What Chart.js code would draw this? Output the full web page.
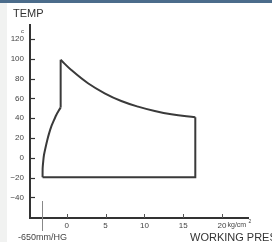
<!DOCTYPE html>
<html>
<head>
<meta charset="utf-8">
<script src="https://cdn.jsdelivr.net/npm/chart.js@4/dist/chart.umd.min.js"></script>
<style>
  html, body { margin: 0; padding: 0; background: #ffffff; }
  #wrap { position: relative; width: 272px; height: 242px; overflow: hidden; }
  canvas { display: block; }
</style>
</head>
<body>
<div id="wrap"><canvas id="c" width="272" height="242"></canvas></div>
<script>
// ---- data (pressure kg/cm², temperature °C) ----
const yTickValues = [-40, -20, 0, 20, 40, 60, 80, 100, 120];
const xTickValues = [0, 5, 10, 15, 20];
const vacuumPressure = -3.22;          // position of the -650mmHG mark
const vacuumLabel = '-650mm/HG';

// left (suction) branch, curving up from the bottom to ~50
const leftBranchP = [-3.12, -3.11, -3.03, -2.94, -2.75, -2.51, -2.27, -2.0, -1.68, -1.35, -1.05, -0.79];
const leftBranchT = [-19.5, -10.5, -3, 2.9, 10, 18.1, 25, 31.5, 37.5, 43.3, 47.5, 50.7];

// vertical step from ~50 up to the peak
const stepP = [-0.79, -0.79];
const stepT = [50.7, 99];

// decaying upper branch from the peak down to ~41
const decayP = [-0.79, 0.58, 2.73, 4.88, 7.02, 9.18, 11.33, 13.47, 16.56];
const decayT = [99, 88.7, 75.3, 65.2, 57.4, 51.7, 47.3, 44.0, 41.0];

// bottom and right edges of the envelope
const boxP = [-3.12, 16.56, 16.56];
const boxT = [-19.5, -19.5, 41.0];

const toPts = (xs, ys) => xs.map((x, i) => ({ x: x, y: ys[i] }));

const LINE = '#3a3a3a';
const FONT = '"Liberation Sans", Arial, sans-serif';

const decor = {
  id: 'decor',
  beforeDraw(chart) {
    const ctx = chart.ctx;
    ctx.save();
    ctx.fillStyle = '#f1f2f1';
    ctx.fillRect(0, 0, 7, chart.height);
    ctx.fillStyle = '#4b6c8b';
    ctx.fillRect(0, 0, chart.width, 3);
    ctx.restore();
  },
  afterDraw(chart) {
    const ctx = chart.ctx;
    const xs = chart.scales.x, ys = chart.scales.y;
    const a = chart.chartArea;
    ctx.save();
    // inward tick marks on y axis
    ctx.strokeStyle = '#333';
    ctx.lineWidth = 1.2;
    yTickValues.forEach(v => {
      const py = Math.round(ys.getPixelForValue(v)) + 0.5;
      ctx.beginPath(); ctx.moveTo(a.left, py); ctx.lineTo(a.left + 5, py); ctx.stroke();
    });
    // upward tick marks on x axis
    ctx.strokeStyle = '#555';
    ctx.lineWidth = 1;
    xTickValues.forEach(v => {
      const px = Math.round(xs.getPixelForValue(v)) + 0.5;
      ctx.beginPath(); ctx.moveTo(px, a.bottom); ctx.lineTo(px, a.bottom - 4); ctx.stroke();
    });
    // -650mmHG long tick
    const vx = Math.round(xs.getPixelForValue(vacuumPressure)) + 0.5;
    ctx.strokeStyle = '#888';
    ctx.beginPath(); ctx.moveTo(vx, a.bottom - 17); ctx.lineTo(vx, a.bottom + 13); ctx.stroke();

    ctx.fillStyle = '#444';
    ctx.font = '9px ' + FONT;
    ctx.textAlign = 'center';
    ctx.textBaseline = 'middle';
    ctx.fillText(vacuumLabel, vx, 238);

    // unit after 20
    const x20 = xs.getPixelForValue(20);
    ctx.textAlign = 'left';
    ctx.font = '7px ' + FONT;
    ctx.fillText('kg/cm', x20 + 5.5, 225);
    ctx.font = '5px ' + FONT;
    ctx.fillText('2', x20 + 26.5, 222);

    // degree c
    ctx.font = '6px ' + FONT;
    ctx.fillText('c', 21, 31);

    // titles
    ctx.fillStyle = '#333';
    ctx.font = '11px ' + FONT;
    ctx.fillText('TEMP', 13, 14);
    ctx.font = '11px ' + FONT;
    ctx.fillText('WORKING PRESSURE', 190, 238);
    ctx.restore();
  }
};

const lineStyle = {
  showLine: true, borderColor: LINE, borderWidth: 2, pointRadius: 0, fill: false
};

new Chart(document.getElementById('c'), {
  type: 'scatter',
  data: {
    datasets: [
      Object.assign({ data: toPts(leftBranchP, leftBranchT), tension: 0.2 }, lineStyle),
      Object.assign({ data: toPts(stepP, stepT), tension: 0 }, lineStyle),
      Object.assign({ data: toPts(decayP, decayT), tension: 0.4 }, lineStyle),
      Object.assign({ data: toPts(boxP, boxT), tension: 0 }, lineStyle)
    ]
  },
  options: {
    responsive: false,
    animation: false,
    devicePixelRatio: 1,
    layout: { padding: { left: 0, top: 25, right: 24, bottom: 0 } },
    plugins: { legend: { display: false }, tooltip: { enabled: false } },
    scales: {
      x: {
        type: 'linear', min: -4.74, max: 23.35,
        afterBuildTicks: s => { s.ticks = xTickValues.map(v => ({ value: v })); },
        afterFit: s => { s.height = 24; },
        grid: { display: false, drawTicks: false },
        border: { display: true, color: '#333', width: 2 },
        ticks: { color: '#444', font: { size: 8, family: FONT }, padding: 3, autoSkip: false, maxRotation: 0 }
      },
      y: {
        type: 'linear', min: -60.7, max: 134.1,
        afterBuildTicks: s => { s.ticks = yTickValues.map(v => ({ value: v })); },
        afterFit: s => { s.width = 30; },
        grid: { display: false, drawTicks: false },
        border: { display: true, color: '#333', width: 2 },
        ticks: {
          color: '#444', font: { size: 8, family: FONT }, padding: 6, autoSkip: false,
          callback: v => (v < 0 ? '\u2212' + Math.abs(v) : String(v))
        }
      }
    }
  },
  plugins: [decor]
});
</script>
</body>
</html>
